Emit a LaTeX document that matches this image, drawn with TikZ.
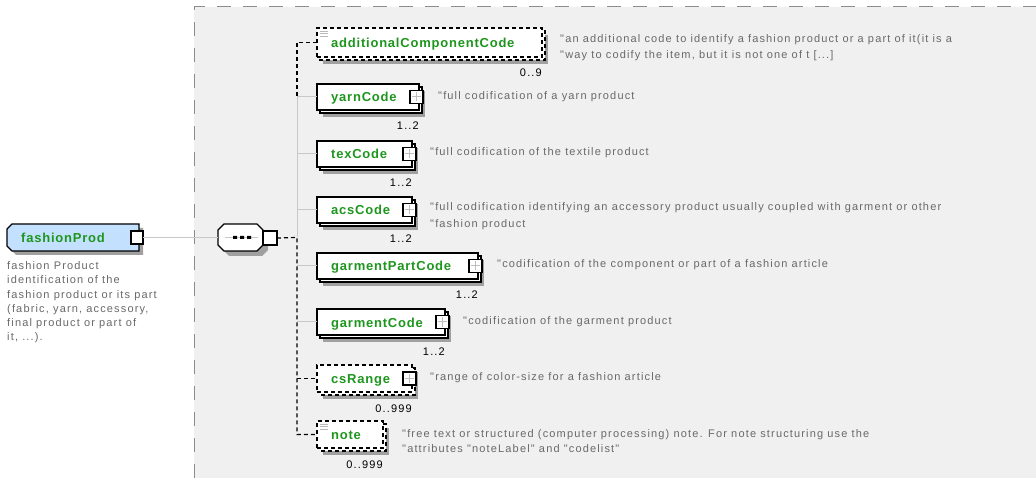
\documentclass[tikz,border=0pt]{standalone}
\usepackage{fontspec}
\setmainfont{Liberation Sans}
\newfontfamily\labfont[LetterSpace=6]{Liberation Sans Bold}
\newfontfamily\descfont[LetterSpace=10.5]{Liberation Sans}
\definecolor{labgreen}{RGB}{30,150,30}
\definecolor{descgray}{RGB}{105,105,105}
\definecolor{shadowgray}{RGB}{160,160,160}
\definecolor{regiongray}{RGB}{240,240,240}
\definecolor{regiondash}{RGB}{140,140,140}
\definecolor{conngray}{RGB}{200,200,200}
\definecolor{plusgray}{RGB}{190,190,190}
\definecolor{icongray}{RGB}{185,185,185}
\definecolor{rootblue}{RGB}{195,225,255}
\newcommand\xelem[8]{%
  \fill[shadowgray] ({#2+6},{#3+7}) rectangle ({#4+6},{#5+7});
  \draw[#6,fill=white,line width=1.2pt] ({#2+3},{#3+3}) rectangle ({#4+3},{#5+3});
  \node[elbox,#6,minimum width={#4-#2},minimum height={#5-#3}] (#1) at ({(#2+#4)/2},{(#3+#5)/2}) {};
  \node[lab,anchor=base west] (#1-l) at ({#2+14},{(#3+#5)/2+5}) {#7};
  \node[mult] (#1-m) at ({#4},{#5+20}) {#8};
}
\newcommand\xplus[3]{%
  \node[pbox] (#1) at ({#2-2.5},{#3}) {};
  \draw[plusgray,line width=1pt] ([xshift=-4.5pt]#1.center) -- ([xshift=4.5pt]#1.center)
    ([yshift=-4.5pt]#1.center) -- ([yshift=4.5pt]#1.center);
}
\newcommand\xicon[2]{%
  \draw[icongray,line width=0.8pt] ({#1+3},{#2+3}) -- ++(8,0)
    ({#1+3},{#2+5.5}) -- ++(8,0) ({#1+3},{#2+8}) -- ++(8,0);
}
\begin{document}
\begin{tikzpicture}[x=1pt,y=-1pt,
  elbox/.style={draw=black,line width=1.2pt,fill=white,inner sep=0pt,outer sep=0pt},
  lab/.style={font=\labfont\fontsize{13}{15}\selectfont,text=labgreen,inner sep=0pt},
  desc/.style={font=\descfont\fontsize{11}{14}\selectfont,text=descgray,inner sep=0pt,anchor=base west},
  mult/.style={font=\descfont\fontsize{11}{14}\selectfont,text=black,inner sep=0pt,anchor=base east},
  dsh/.style={dash pattern=on 4pt off 3pt},
  conng/.style={draw=conngray,line width=1pt},
  connd/.style={draw=black,line width=1.2pt,dash pattern=on 4pt off 3pt},
  pbox/.style={draw=black,line width=1.2pt,fill=white,minimum size=13pt,inner sep=0pt,outer sep=0pt}]
\useasboundingbox (0,0) rectangle (1036,478);
\fill[white] (0,0) rectangle (1036,478);
\fill[regiongray] (194,7) rectangle (1036,478);
\draw[regiondash,line width=1pt,dash pattern=on 14pt off 12pt] (194,478) -- (194,7) -- (1036,7);

% root element
\fill[shadowgray] (16,228) -- (143,228) -- (143,255) -- (16,255) -- (11,250) -- (11,233) -- cycle;
\draw[fill=rootblue,line width=1.2pt] (12,224) -- (139,224) -- (139,251) -- (12,251) -- (7,246) -- (7,229) -- cycle;
\node[minimum width=132pt,minimum height=27pt,inner sep=0pt] (fp) at (73,237.5) {};
\node[lab,anchor=base west] (fp-l) at (21,242.5) {fashionProd};
\node[pbox,minimum width=12pt,minimum height=13pt] (fp-sq) at (137,237.5) {};
\node[desc] (fp-d1) at (7,269.7) {fashion Product};
\node[desc] (fp-d2) at (7,283.9) {identification of the};
\node[desc] (fp-d3) at (7,298.1) {fashion product or its part};
\node[desc] (fp-d4) at (7,312.3) {(fabric, yarn, accessory,};
\node[desc] (fp-d5) at (7,326.5) {final product or part of};
\node[desc] (fp-d6) at (7,340.7) {it, ...).};

% sequence compositor
\fill[shadowgray] (229,229) -- (262,229) -- (268,235) -- (268,250) -- (262,256) -- (229,256) -- (223,250) -- (223,235) -- cycle;
\draw[fill=white,line width=1.2pt] (224,224) -- (257,224) -- (263,230) -- (263,245) -- (257,251) -- (224,251) -- (218,245) -- (218,230) -- cycle;
\node[minimum width=45pt,minimum height=27pt,inner sep=0pt] (seq) at (240.5,237.5) {};
\draw[conngray,line width=1pt] (225,237.5) -- (258,237.5);
\fill[black] (233,236) rectangle (237,239) (240,236) rectangle (244,239) (247,236) rectangle (251,239);
\node[pbox,minimum size=14pt] (seq-sq) at (270,238) {};

% child elements
\xelem{aCC}{317}{28}{542}{57}{dsh}{additionalComponentCode}{0..9}
\xicon{317}{28}
\xelem{yarn}{317}{84}{419}{110}{solid}{yarnCode}{1..2}
\xplus{yarn-p}{419}{97}
\xelem{tex}{317}{141}{412}{167}{solid}{texCode}{1..2}
\xplus{tex-p}{412}{154}
\xelem{acs}{317}{197}{412}{223}{solid}{acsCode}{1..2}
\xplus{acs-p}{412}{210}
\xelem{gpc}{317}{253}{478}{279}{solid}{garmentPartCode}{1..2}
\xplus{gpc-p}{478}{266}
\xelem{gc}{317}{309}{445}{335}{solid}{garmentCode}{1..2}
\xplus{gc-p}{445}{322}
\xelem{csR}{317}{365}{412}{392}{dsh}{csRange}{0..999}
\xplus{csR-p}{412}{378.5}
\xelem{note}{317}{421}{383}{448}{dsh}{note}{0..999}
\xicon{317}{421}

% descriptions
\node[desc] (aCC-d1) at (560,43) {"an additional code to identify a fashion product or a part of it(it is a};
\node[desc] (aCC-d2) at (560,59) {"way to codify the item, but it is not one of t [...]};
\node[desc] (yarn-d) at (438,100) {"full codification of a yarn product};
\node[desc] (tex-d) at (430,156) {"full codification of the textile product};
\node[desc] (acs-d1) at (430,211) {"full codification identifying an accessory product usually coupled with garment or other};
\node[desc] (acs-d2) at (430,228) {"fashion product};
\node[desc] (gpc-d) at (497,268) {"codification of the component or part of a fashion article};
\node[desc] (gc-d) at (463,324) {"codification of the garment product};
\node[desc] (csR-d) at (430,380) {"range of color-size for a fashion article};
\node[desc] (note-d1) at (402,437) {"free text or structured (computer processing) note. For note structuring use the};
\node[desc] (note-d2) at (402,452) {"attributes "noteLabel" and "codelist"};

% connectors
\coordinate (sp-aCC) at (297,42.5);
\coordinate (sp-yarn) at (297,97);
\coordinate (sp-tex) at (297,154);
\coordinate (sp-acs) at (297,210);
\coordinate (sp-seq) at (297,237.5);
\coordinate (sp-gpc) at (297,266);
\coordinate (sp-gc) at (297,322);
\coordinate (sp-csR) at (297,378.5);
\coordinate (sp-note) at (297,434.5);
\draw[conngray,line width=1pt] (fp-sq.east) -- (seq.west);
\draw[conng] (sp-yarn) -- (sp-seq);
\draw[conng] (sp-yarn) -- (yarn.west);
\draw[conng] (sp-tex) -- (tex.west);
\draw[conng] (sp-acs) -- (acs.west);
\draw[conng] (sp-gpc) -- (gpc.west);
\draw[conng] (sp-gc) -- (gc.west);
\draw[connd] (aCC.west) -- (sp-aCC) -- (sp-yarn);
\draw[connd] (seq-sq.east) -- (sp-seq) -- (sp-note) -- (note.west);
\draw[connd] (sp-csR) -- (csR.west);
\end{tikzpicture}
\end{document}
